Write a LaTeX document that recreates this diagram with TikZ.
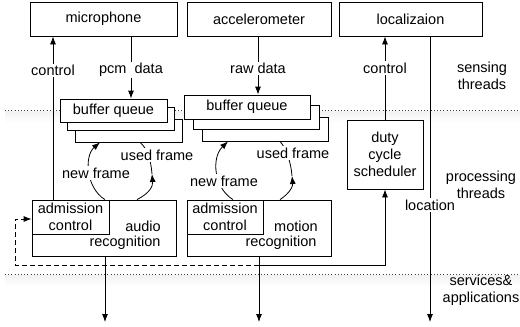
\documentclass[tikz,border=0pt]{standalone}
\usepackage{fontspec}
\setmainfont{Liberation Sans}
\usetikzlibrary{arrows.meta}
\begin{document}
\begin{tikzpicture}[x=1pt,y=-1pt,
  every node/.style={font=\fontsize{14.5}{17}\selectfont, inner sep=0pt},
  box/.style={draw, fill=white, line width=0.8pt},
  lbl/.style={fill=white, inner sep=1.5pt},
  arr/.style={line width=0.8pt, -{Latex[length=8pt,width=6pt]}},
  ln/.style={line width=0.8pt},
  sep/.style={line width=0.8pt, dash pattern=on 1pt off 2.2pt, black!75},
  fb/.style={line width=0.8pt, dash pattern=on 5pt off 3pt},
]
\useasboundingbox (0,0) rectangle (520,327);

% layer shading and separators
\shade[top color=black!5, bottom color=white] (5,111) rectangle (520,123);
\shade[top color=black!5, bottom color=white] (5,275) rectangle (520,287);
\draw[sep] (5,110) -- (520,110);
\draw[sep] (5,274) -- (520,274);

% sensing boxes
\node[box, minimum width=147pt, minimum height=34pt] (mic) at (103.5,19) {microphone};
\node[box, minimum width=144pt, minimum height=34pt] (acc) at (259,19) {accelerometer};
\node[box, minimum width=143pt, minimum height=34pt] (loc) at (410.5,19) {localizaion};

% buffer queues (audio)
\node[box, minimum width=107pt, minimum height=23pt] (bq1c) at (128.5,130.5) {};
\node[box, minimum width=107pt, minimum height=23pt] (bq1b) at (121,118.5) {};
\node[box, minimum width=107pt, minimum height=23pt] (bq1) at (113.5,110.5) {buffer queue};
% buffer queues (motion)
\node[box, minimum width=126pt, minimum height=24pt] (bq2c) at (265.5,129) {};
\node[box, minimum width=126pt, minimum height=24pt] (bq2b) at (256.5,117) {};
\node[box, minimum width=126pt, minimum height=24pt] (bq2) at (247,107) {buffer queue};

% recognition boxes
\node[box, minimum width=144pt, minimum height=56pt] (ar) at (104,228) {};
\node[box, minimum width=77pt, minimum height=34pt, align=center] (ac1) at (70.5,217) {admission\\control};
\node (at1) at (143,226) {audio};
\node (rt1) at (125,243) {recognition};

\node[box, minimum width=144pt, minimum height=56pt] (mr) at (259,228) {};
\node[box, minimum width=76pt, minimum height=34pt, align=center] (ac2) at (225,217) {admission\\control};
\node (mt2) at (296,226) {motion};
\node (rt2) at (281,243) {recognition};

% scheduler
\node[box, minimum width=76pt, minimum height=69pt, align=center] (sched) at (385,154.5) {duty\\cycle\\scheduler};

% layer labels
\node[align=center] (l1) at (482,76) {sensing\\threads};
\node[align=center] (l2) at (481,185) {processing\\threads};
\node[align=center] (l3) at (481,290) {services\&\\applications};

% sensing connectors
\draw[arr] ([xshift=-51pt]ar.north) -- ([xshift=-51pt]ar.north |- mic.south)
  node[lbl, pos=0.79] {control};
\draw[arr] ([xshift=27.5pt]mic.south) -- ([xshift=27.5pt]mic.south |- bq1.north)
  node[lbl, pos=0.54] {pcm\ \ data};
\draw[arr] ([xshift=-1pt]acc.south) -- ([xshift=-1pt]acc.south |- bq2.north)
  node[lbl, pos=0.55] {raw data};
\draw[arr] (sched.north) -- (sched.north |- loc.south)
  node[lbl, pos=0.62] {control};
\coordinate (locend) at (430,322);
\draw[arr] (locend |- loc.south) -- (locend)
  node[lbl, pos=0.59] {location};

% outputs
\coordinate (aout) at (105,322);
\coordinate (mout) at (259,322);
\draw[arr] (aout |- ar.south) -- (aout);
\draw[arr] (mout |- mr.south) -- (mout);

% feedback
\coordinate (fbm) at (259,265);
\coordinate (fbl) at (15,265);
\coordinate (fbt) at (15,219);
\draw[arr] (fbm) -- (fbm -| sched.south) -- (sched.south);
\draw[fb, -{Latex[length=8pt,width=6pt]}] (fbm) -- (fbl) -- (fbt) -- (fbt -| ac1.west);

% frame cycles (audio)
\coordinate (u1) at (152,174);
\draw[arr] ([xshift=1pt]ar.north) .. controls (86,188) and (84,156) .. ([xshift=-28.5pt]bq1c.south);
\draw[arr] ([xshift=33pt]ar.north) .. controls (150,193) and (153,186) .. (u1);
\draw[ln] (u1) .. controls (151,160) and (147,148) .. ([xshift=11.5pt]bq1c.south);
\node[lbl] (nf1) at (96,173) {new frame};
\node[lbl] (uf1) at (157,155) {used frame};

% frame cycles (motion)
\coordinate (u2) at (292,176);
\draw[arr] ([xshift=-26pt]mr.north) .. controls (214,188) and (211,158) .. ([xshift=-37.5pt]bq2c.south);
\draw[arr] ([xshift=21pt]mr.north) .. controls (290,193) and (293,186) .. (u2);
\draw[ln] (u2) .. controls (291,162) and (286,148) .. ([xshift=14.5pt]bq2c.south);
\node[lbl] (nf2) at (224,181) {new frame};
\node[lbl] (uf2) at (293,153) {used frame};
\end{tikzpicture}
\end{document}
